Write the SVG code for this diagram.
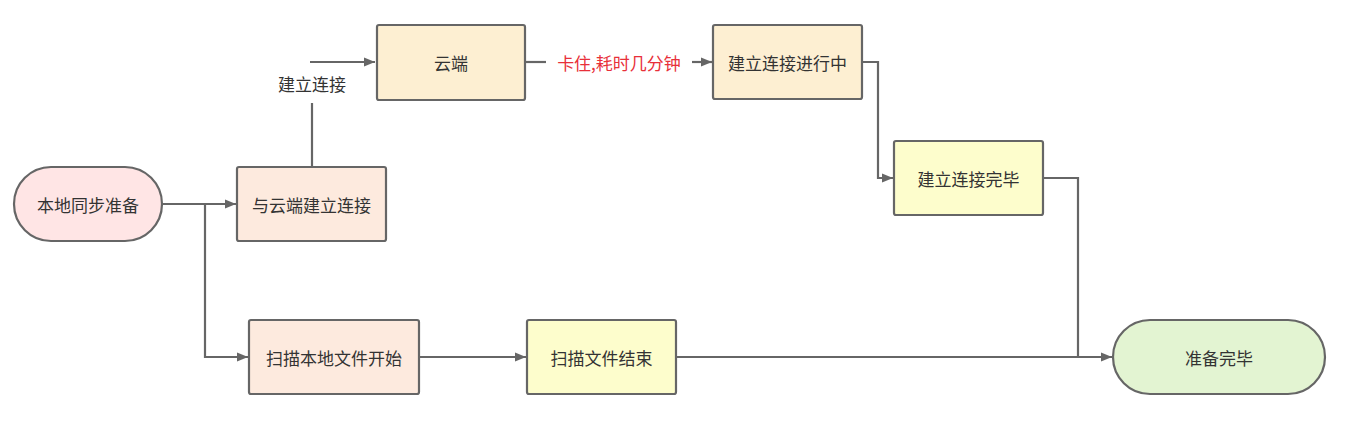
<svg xmlns="http://www.w3.org/2000/svg" width="1370" height="437" viewBox="0 0 1370 437">
<defs>
<marker id="arr" viewBox="0 0 11 10" refX="11" refY="5" markerWidth="11" markerHeight="10" markerUnits="userSpaceOnUse" orient="auto">
<path d="M0,0.5 L11,5 L0,9.5 Z" fill="#666"/>
</marker>
<style>
.n{stroke:#666;stroke-width:2.2}
.t{font-family:"Noto Sans CJK SC","Liberation Sans",sans-serif;font-size:17px;fill:#333;text-anchor:middle;dominant-baseline:central}
.c{fill:none;stroke:#666;stroke-width:2.2}
.pink{fill:#ffe5e5}.peach{fill:#fdeade}.orange{fill:#fdefd2}.yellow{fill:#fdfdcc}.green{fill:#e3f4d2}
</style>
</defs>
<rect width="1370" height="437" fill="#fff"/>
<g id="connectors">
<path class="c" d="M162,204 H236" marker-end="url(#arr)"/>
<path class="c" d="M205,204 V357 H248" marker-end="url(#arr)"/>
<path class="c" d="M312,167 V103"/>
<path class="c" d="M310,62 H375" marker-end="url(#arr)"/>
<path class="c" d="M525,62 H546"/>
<path class="c" d="M692,62 H712" marker-end="url(#arr)"/>
<path class="c" d="M862,62 H878 V178 H893" marker-end="url(#arr)"/>
<path class="c" d="M1043,178 H1078 V357"/>
<path class="c" d="M419,357 H526" marker-end="url(#arr)"/>
<path class="c" d="M676,357 H1112" marker-end="url(#arr)"/>
<text class="t" x="312" y="83">建立连接</text>
<text class="t" x="619" y="62" style="fill:#e8303a">卡住,耗时几分钟</text>
</g>
<g id="n1"><rect class="n pink" x="14" y="167" width="148" height="74" rx="37"/><text class="t" x="88" y="204">本地同步准备</text></g>
<g id="n2"><rect class="n peach" x="237" y="167" width="149" height="74" rx="2"/><text class="t" x="311.5" y="204">与云端建立连接</text></g>
<g id="n3"><rect class="n orange" x="377" y="25" width="148" height="75" rx="2"/><text class="t" x="451" y="62">云端</text></g>
<g id="n4"><rect class="n orange" x="713" y="25" width="149" height="74" rx="2"/><text class="t" x="787.5" y="62">建立连接进行中</text></g>
<g id="n5"><rect class="n yellow" x="894" y="141" width="149" height="74" rx="2"/><text class="t" x="968.5" y="178">建立连接完毕</text></g>
<g id="n6"><rect class="n peach" x="249" y="320" width="170" height="74" rx="2"/><text class="t" x="334" y="357">扫描本地文件开始</text></g>
<g id="n7"><rect class="n yellow" x="527" y="320" width="149" height="74" rx="2"/><text class="t" x="601.5" y="357">扫描文件结束</text></g>
<g id="n8"><rect class="n green" x="1113" y="320" width="212" height="74" rx="37"/><text class="t" x="1219" y="357">准备完毕</text></g>
</svg>
